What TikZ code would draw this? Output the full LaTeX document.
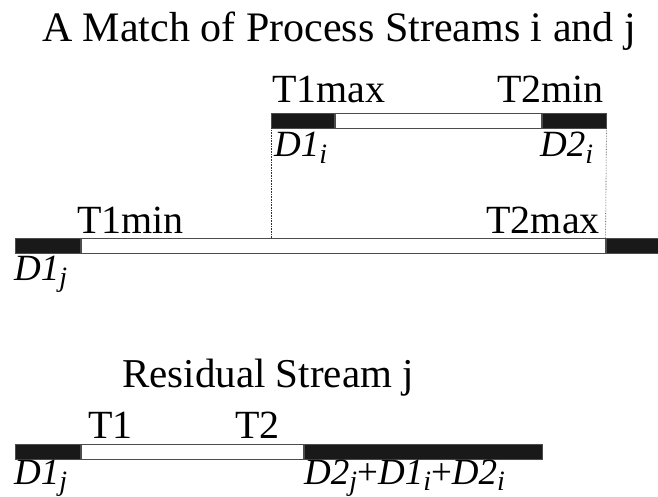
\documentclass[tikz,border=0pt]{standalone}
\usepackage{fontspec}
\setmainfont{Liberation Serif}
\usetikzlibrary{positioning}

\newcommand{\dlbl}[2]{\textit{#1}\raisebox{-6.5pt}{\fontsize{28}{28}\selectfont\textit{#2}}}

\begin{document}
\begin{tikzpicture}[x=1pt, y=-1pt,
      seg/.style ={draw=black!70, line width=0.8pt, minimum height=15pt, inner sep=0pt, anchor=west},
      hot/.style ={seg, fill=black!90},
      free/.style={seg, fill=white},
      lbl/.style ={inner sep=0pt, font=\fontsize{40}{44}\selectfont},
      dl/.style  ={inner sep=0pt, font=\fontsize{37}{40}\selectfont},
      guide/.style={densely dotted, line width=0.6pt, black!80}
    ]
    \useasboundingbox (0,0) rectangle (658,497);

    % Titel
    \node[inner sep=0pt, anchor=base, font=\fontsize{42}{46}\selectfont] (title) at (339,42)
      {A Match of Process Streams i and j};

    % Strom i
    \node[hot,  minimum width=63pt]  (i1) at (271,120.5) {};
    \node[free, minimum width=206pt] (i2) at (i1.east) {};
    \node[hot,  minimum width=64pt]  (i3) at (i2.east) {};
    \node[lbl, anchor=base west] (t1max) at (272,103) {T1max};
    \node[lbl, anchor=base east] (t2min) at (604,103) {T2min};
    \node[dl, anchor=base west]  (d1i) at (274,157) {\dlbl{D1}{i}};
    \node[dl, anchor=base west]  (d2i) at (540,157) {\dlbl{D2}{i}};

    % Strom j
    \node[hot,  minimum width=65pt]  (j1) at (15,245.5) {};
    \node[free, minimum width=524pt] (j2) at (j1.east) {};
    \node[hot,  minimum width=60pt]  (j3) at (j2.east) {};
    \node[lbl, anchor=base west] (t1min) at (77,233) {T1min};
    \node[lbl, anchor=base east] (t2max) at (600,233) {T2max};
    \node[dl, anchor=base west]  (d1j) at (14,280) {\dlbl{D1}{j}};

    % Hilfslinien zwischen den Stroemen
    \draw[guide] (i1.south west) -- (j2.north west -| i1.south west);
    \draw[guide] (i3.south east) -- (j3.north west);

    % Reststrom j
    \node[inner sep=0pt, anchor=base west, font=\fontsize{41}{45}\selectfont] (rest) at (122,387)
      {Residual Stream j};
    \node[hot,  minimum width=65pt]  (r1) at (15,452) {};
    \node[free, minimum width=222pt] (r2) at (r1.east) {};
    \node[hot,  minimum width=238pt] (r3) at (r2.east) {};
    \node[lbl, anchor=base west] (t1) at (88,438) {T1};
    \node[lbl, anchor=base west] (t2) at (235,438) {T2};
    \node[dl, anchor=base west]  (d1jr) at (14,484) {\dlbl{D1}{j}};
    \node[dl, anchor=base west]  (dsum) at (304,484)
      {\dlbl{D2}{j}+\dlbl{D1}{i}+\dlbl{D2}{i}};
  \end{tikzpicture}
\end{document}
